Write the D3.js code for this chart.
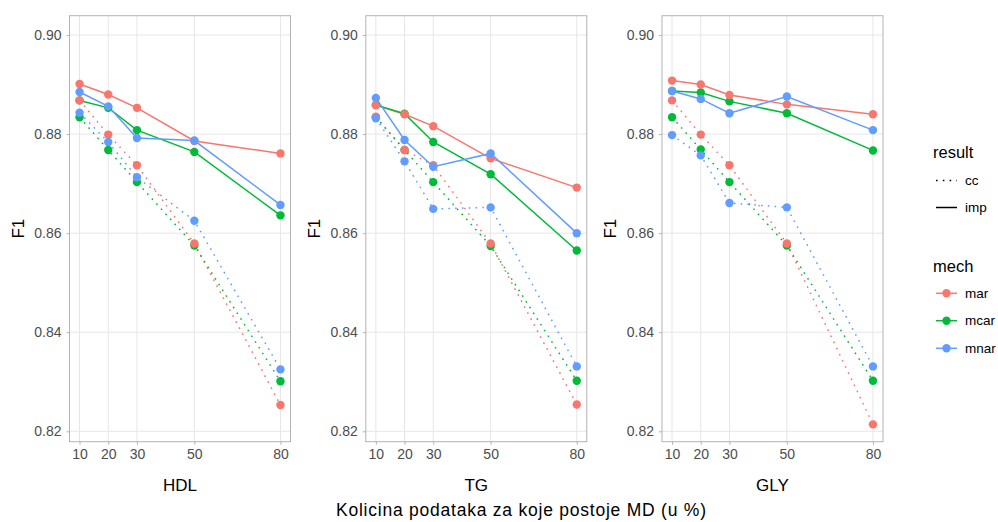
<!DOCTYPE html>
<html>
<head>
<meta charset="utf-8">
<script src="https://cdn.jsdelivr.net/npm/d3@7"></script>
<style>
  body { margin: 0; background: #fff; }
  svg { display: block; font-family: "Liberation Sans", Arial, sans-serif; }
</style>
</head>
<body>
<svg id="chart" width="998" height="522"></svg>
<script>
// Percent of data with missing values (x axis)
const sizes = [10, 20, 30, 50, 80];
const variables = ["HDL", "TG", "GLY"];
const mechs = ["mar", "mcar", "mnar"];
const results = ["cc", "imp"];
const yTicks = [0.82, 0.84, 0.86, 0.88, 0.90];

// F1 scores per variable / result / mechanism
const hdlImpMar  = [0.8901, 0.8880, 0.8853, 0.8786, 0.8761];
const hdlImpMcar = [0.8868, 0.8853, 0.8808, 0.8764, 0.8636];
const hdlImpMnar = [0.8885, 0.8856, 0.8792, 0.8787, 0.8657];
const hdlCcMar   = [0.8868, 0.8799, 0.8737, 0.8579, 0.8253];
const hdlCcMcar  = [0.8834, 0.8768, 0.8703, 0.8575, 0.8301];
const hdlCcMnar  = [0.8843, 0.8784, 0.8713, 0.8625, 0.8325];

const tgImpMar   = [0.8858, 0.8840, 0.8816, 0.8751, 0.8692];
const tgImpMcar  = [0.8859, 0.8841, 0.8784, 0.8719, 0.8565];
const tgImpMnar  = [0.8873, 0.8788, 0.8734, 0.8761, 0.8600];
const tgCcMar    = [0.8835, 0.8768, 0.8737, 0.8579, 0.8254];
const tgCcMcar   = [0.8834, 0.8768, 0.8703, 0.8574, 0.8302];
const tgCcMnar   = [0.8832, 0.8745, 0.8649, 0.8652, 0.8331];

const glyImpMar  = [0.8908, 0.8900, 0.8879, 0.8860, 0.8840];
const glyImpMcar = [0.8887, 0.8884, 0.8866, 0.8842, 0.8767];
const glyImpMnar = [0.8887, 0.8871, 0.8842, 0.8876, 0.8808];
const glyCcMar   = [0.8868, 0.8799, 0.8737, 0.8579, 0.8214];
const glyCcMcar  = [0.8834, 0.8769, 0.8703, 0.8575, 0.8302];
const glyCcMnar  = [0.8798, 0.8757, 0.8661, 0.8652, 0.8331];

const panelData = {
  HDL: { imp: { mar: hdlImpMar, mcar: hdlImpMcar, mnar: hdlImpMnar },
         cc:  { mar: hdlCcMar,  mcar: hdlCcMcar,  mnar: hdlCcMnar } },
  TG:  { imp: { mar: tgImpMar,  mcar: tgImpMcar,  mnar: tgImpMnar },
         cc:  { mar: tgCcMar,   mcar: tgCcMcar,   mnar: tgCcMnar } },
  GLY: { imp: { mar: glyImpMar, mcar: glyImpMcar, mnar: glyImpMnar },
         cc:  { mar: glyCcMar,  mcar: glyCcMcar,  mnar: glyCcMnar } }
};

const color = d3.scaleOrdinal().domain(mechs).range(["#F8766D", "#00BA38", "#619CFF"]);
const dash = { cc: "1.6,5.2", imp: null };

const svg = d3.select("#chart");
const panelLefts = [69.5, 365.8, 662];
const panelW = 221;
const plotTop = 15.7, plotBottom = 441.7;

const y = d3.scaleLinear().domain([0.8179, 0.9039]).range([plotBottom, plotTop]);

const gridCol = "#E6E6E6", borderCol = "#B3B3B3", tickTextCol = "#4D4D4D";

variables.forEach((v, pi) => {
  const left = panelLefts[pi];
  const x = d3.scaleLinear().domain([6.5, 83.5]).range([left, left + panelW]);
  const g = svg.append("g");

  // grid
  g.selectAll(".gy").data(yTicks).join("line")
    .attr("x1", left).attr("x2", left + panelW)
    .attr("y1", d => y(d)).attr("y2", d => y(d))
    .attr("stroke", gridCol).attr("stroke-width", 1);
  g.selectAll(".gx").data(sizes).join("line")
    .attr("x1", d => x(d)).attr("x2", d => x(d))
    .attr("y1", plotTop).attr("y2", plotBottom)
    .attr("stroke", gridCol).attr("stroke-width", 1);

  // axes
  const xAxis = d3.axisBottom(x).tickValues(sizes).tickSize(3).tickPadding(4);
  const gx = g.append("g").attr("transform", `translate(0,${plotBottom})`).call(xAxis);
  const yAxis = d3.axisLeft(y).tickValues(yTicks).tickFormat(d3.format(".2f")).tickSize(3).tickPadding(5);
  const gy = g.append("g").attr("transform", `translate(${left},0)`).call(yAxis);
  [gx, gy].forEach(a => {
    a.select(".domain").remove();
    a.selectAll(".tick line").attr("stroke", borderCol);
    a.selectAll(".tick text").attr("fill", tickTextCol)
      .style("font-size", "14px").style("font-family", "Liberation Sans, Arial, sans-serif");
  });

  // panel border
  g.append("rect").attr("x", left).attr("y", plotTop)
    .attr("width", panelW).attr("height", plotBottom - plotTop)
    .attr("fill", "none").attr("stroke", borderCol).attr("stroke-width", 1);

  // axis titles
  g.append("text").attr("x", left + panelW / 2).attr("y", 491)
    .attr("text-anchor", "middle").style("font-size", "17px").attr("fill", "#000").text(v);
  g.append("text")
    .attr("transform", `translate(${left - 46},${(plotTop + plotBottom) / 2}) rotate(-90)`)
    .attr("text-anchor", "middle").style("font-size", "17px").attr("fill", "#000").text("F1");

  const line = d3.line().x((d, i) => x(sizes[i])).y(d => y(d));

  // lines
  results.forEach(r => {
    mechs.forEach(m => {
      g.append("path").datum(panelData[v][r][m])
        .attr("d", line)
        .attr("fill", "none")
        .attr("stroke", color(m))
        .attr("stroke-width", 1.5)
        .attr("stroke-dasharray", dash[r]);
    });
  });

  // points
  ["mcar", "mar", "mnar"].forEach(m => {
    results.forEach(r => {
      g.selectAll(null).data(panelData[v][r][m]).join("circle")
        .attr("cx", (d, i) => x(sizes[i]))
        .attr("cy", d => y(d))
        .attr("r", 4.2)
        .attr("fill", color(m));
    });
  });
});

// shared x title
svg.append("text").attr("x", 521).attr("y", 516)
  .attr("text-anchor", "middle").style("font-size", "17.5px").attr("fill", "#000")
  .attr("textLength", 370).attr("lengthAdjust", "spacing")
  .text("Kolicina podataka za koje postoje MD (u %)");

// legends
const leg = svg.append("g");
leg.append("text").attr("x", 933).attr("y", 158).style("font-size", "16.5px").text("result");
const resultRows = [{ r: "cc", y: 180.5 }, { r: "imp", y: 207.5 }];
resultRows.forEach(row => {
  leg.append("line").attr("x1", 936).attr("x2", 957).attr("y1", row.y).attr("y2", row.y)
    .attr("stroke", "#000").attr("stroke-width", 1.5).attr("stroke-dasharray", dash[row.r]);
  leg.append("text").attr("x", 965).attr("y", row.y + 4.5).style("font-size", "13.5px").text(row.r);
});
leg.append("text").attr("x", 933).attr("y", 271.5).style("font-size", "16.5px").text("mech");
const mechRows = [{ m: "mar", y: 293.3 }, { m: "mcar", y: 320.7 }, { m: "mnar", y: 348.3 }];
mechRows.forEach(row => {
  leg.append("line").attr("x1", 936).attr("x2", 957).attr("y1", row.y).attr("y2", row.y)
    .attr("stroke", color(row.m)).attr("stroke-width", 1.5);
  leg.append("circle").attr("cx", 946.5).attr("cy", row.y).attr("r", 4.2).attr("fill", color(row.m));
  leg.append("text").attr("x", 965).attr("y", row.y + 4.5).style("font-size", "13.5px").text(row.m);
});
</script>
</body>
</html>
